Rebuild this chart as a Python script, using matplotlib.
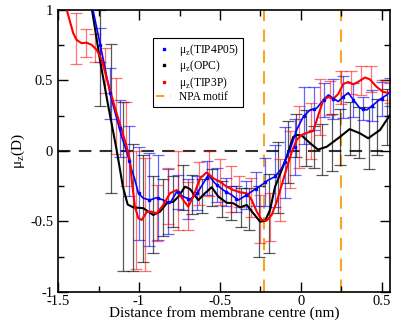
import matplotlib
matplotlib.use("Agg")
import matplotlib.pyplot as plt
from matplotlib.lines import Line2D
from matplotlib.ticker import MultipleLocator, FuncFormatter

plt.rcParams['font.family'] = ['Liberation Serif', 'DejaVu Serif']
plt.rcParams['mathtext.fontset'] = 'custom'
plt.rcParams['mathtext.rm'] = 'Liberation Serif'
plt.rcParams['axes.unicode_minus'] = False

# --- curva suave TIP4P05 (azul) ---
x_tip4p = [-1.284, -1.220, -1.179, -1.138, -1.107, -1.076, -1.045, -1.025, -1.004, -0.973,
           -0.932, -0.891, -0.850, -0.809, -0.767, -0.727, -0.685, -0.644, -0.603, -0.572,
           -0.531, -0.480, -0.428, -0.387, -0.335, -0.284, -0.243, -0.202, -0.160, -0.119,
           -0.068, -0.027, 0.014, 0.056, 0.097, 0.138, 0.169, 0.199, 0.230, 0.261,
           0.292, 0.323, 0.364, 0.406, 0.446, 0.488, 0.529, 0.56]
y_tip4p = [1.0, 0.645, 0.409, 0.232, 0.101, -0.005, -0.135, -0.206, -0.30, -0.335,
           -0.348, -0.331, -0.348, -0.371, -0.289, -0.324, -0.343, -0.305, -0.229, -0.17,
           -0.229, -0.277, -0.312, -0.348, -0.312, -0.272, -0.241, -0.206, -0.182, -0.123,
           0.007, 0.149, 0.243, 0.291, 0.303, 0.362, 0.397, 0.374, 0.35, 0.385,
           0.413, 0.362, 0.303, 0.291, 0.326, 0.367, 0.397, 0.43]

# --- curva suave OPC (negro) ---
x_opc = [-1.290, -1.241, -1.191, -1.138, -1.100, -1.070, -1.035, -0.973, -0.912, -0.870,
         -0.829, -0.788, -0.757, -0.716, -0.685, -0.634, -0.593, -0.551, -0.510, -0.459,
         -0.418, -0.377, -0.335, -0.294, -0.253, -0.222, -0.191, -0.160, -0.119, -0.088,
         -0.048, -0.025, 0.004, 0.056, 0.105, 0.159, 0.241, 0.300, 0.364, 0.415, 0.488, 0.556]
y_opc = [1.0, 0.645, 0.326, 0.007, -0.25, -0.38, -0.40, -0.406, -0.454, -0.43,
         -0.371, -0.36, -0.324, -0.253, -0.27, -0.348, -0.30, -0.257, -0.324, -0.367,
         -0.371, -0.40, -0.383, -0.442, -0.501, -0.496, -0.418, -0.253, -0.135, -0.04,
         0.10, 0.113, 0.11, 0.055, 0.01, 0.03, 0.10, 0.155, 0.125, 0.09, 0.149, 0.267]

# --- curva suave TIP3P (rojo) ---
x_tip3p = [-1.446, -1.426, -1.406, -1.385, -1.354, -1.323, -1.292, -1.261, -1.230, -1.21,
           -1.179, -1.148, -1.107, -1.076, -1.056, -1.045, -1.025, -1.004, -0.983, -0.952,
           -0.922, -0.891, -0.850, -0.809, -0.767, -0.727, -0.696, -0.665, -0.623, -0.582,
           -0.541, -0.5, -0.459, -0.418, -0.377, -0.335, -0.304, -0.273, -0.243, -0.212,
           -0.181, -0.150, -0.119, -0.088, -0.057, -0.027, 0.004, 0.035, 0.076, 0.107,
           0.138, 0.169, 0.199, 0.230, 0.261, 0.292, 0.323, 0.354, 0.395, 0.426,
           0.467, 0.508, 0.556]
y_tip3p = [1.0, 0.917, 0.835, 0.787, 0.764, 0.768, 0.752, 0.716, 0.645, 0.56,
           0.433, 0.305, 0.149, 0.03, -0.064, -0.206, -0.395, -0.477, -0.489, -0.433,
           -0.43, -0.442, -0.383, -0.30, -0.277, -0.348, -0.395, -0.324, -0.194, -0.152,
           -0.194, -0.218, -0.253, -0.277, -0.293, -0.30, -0.348, -0.43, -0.489, -0.494,
           -0.454, -0.36, -0.241, -0.12, -0.007, 0.078, 0.113, 0.128, 0.142, 0.255,
           0.362, 0.383, 0.369, 0.404, 0.475, 0.489, 0.472, 0.491, 0.521, 0.507,
           0.454, 0.418, 0.409]

# --- barras de error (puntos de datos) ---
xb_tip4p = [-1.24, -1.18, -1.12, -1.06, -1.00, -0.94, -0.88, -0.82, -0.76, -0.70,
            -0.64, -0.58, -0.52, -0.46, -0.40, -0.34, -0.28, -0.22, -0.16, -0.10,
            -0.04, 0.02, 0.08, 0.14, 0.20, 0.26, 0.32, 0.38, 0.44, 0.50, 0.55]
yb_tip4p = [0.75, 0.41, 0.16, -0.07, -0.30, -0.345, -0.33, -0.36, -0.29, -0.34,
            -0.30, -0.19, -0.24, -0.29, -0.34, -0.31, -0.27, -0.22, -0.18, -0.08,
            0.03, 0.25, 0.30, 0.36, 0.37, 0.385, 0.36, 0.30, 0.32, 0.37, 0.42]
eb_tip4p = [0.12, 0.18, 0.20, 0.25, 0.33, 0.33, 0.30, 0.23, 0.12, 0.14,
            0.12, 0.12, 0.12, 0.10, 0.09, 0.10, 0.12, 0.17, 0.22, 0.25,
            0.20, 0.20, 0.15, 0.12, 0.14, 0.15, 0.12, 0.08, 0.11, 0.12, 0.10]

xb_opc = [-1.24, -1.17, -1.10, -1.035, -0.973, -0.912, -0.85, -0.79, -0.73, -0.67,
          -0.61, -0.55, -0.49, -0.43, -0.37, -0.32, -0.26, -0.20, -0.14, -0.08,
          -0.03, 0.03, 0.08, 0.13, 0.19, 0.24, 0.30, 0.36, 0.42, 0.47, 0.53]
yb_opc = [0.66, 0.23, -0.25, -0.40, -0.41, -0.45, -0.40, -0.36, -0.26, -0.31,
          -0.32, -0.26, -0.34, -0.37, -0.40, -0.41, -0.50, -0.44, -0.19, -0.01,
          0.11, 0.09, 0.03, 0.01, 0.06, 0.10, 0.16, 0.13, 0.09, 0.17, 0.24]
eb_opc = [0.34, 0.53, 0.60, 0.45, 0.38, 0.27, 0.20, 0.18, 0.16, 0.14,
          0.12, 0.13, 0.13, 0.12, 0.14, 0.15, 0.25, 0.28, 0.25, 0.22,
          0.15, 0.20, 0.15, 0.18, 0.20, 0.20, 0.19, 0.18, 0.22, 0.20, 0.20]

xb_tip3p = [-1.39, -1.33, -1.27, -1.21, -1.14, -1.08, -1.02, -0.96, -0.89, -0.82,
            -0.76, -0.70, -0.63, -0.57, -0.50, -0.43, -0.38, -0.31, -0.25, -0.19,
            -0.13, -0.07, -0.01, 0.06, 0.12, 0.18, 0.25, 0.31, 0.37, 0.43, 0.50, 0.55]
yb_tip3p = [0.80, 0.765, 0.73, 0.57, 0.25, 0.05, -0.42, -0.45, -0.44, -0.32,
            -0.28, -0.39, -0.23, -0.16, -0.22, -0.27, -0.29, -0.33, -0.48, -0.47,
            -0.28, -0.06, 0.10, 0.14, 0.31, 0.375, 0.45, 0.485, 0.50, 0.51, 0.43, 0.41]
eb_tip3p = [0.18, 0.10, 0.10, 0.16, 0.27, 0.30, 0.42, 0.40, 0.20, 0.20,
            0.28, 0.17, 0.15, 0.16, 0.16, 0.16, 0.11, 0.14, 0.17, 0.17,
            0.22, 0.20, 0.22, 0.20, 0.20, 0.12, 0.12, 0.08, 0.10, 0.09, 0.07, 0.07]

npa_motif = [-0.23, 0.25]

fig = plt.figure(figsize=(3.93, 3.2), dpi=100)
ax = fig.add_axes([0.1476, 0.0875, 0.845, 0.8815])

# barras de error primero
ax.errorbar(xb_opc, yb_opc, yerr=eb_opc, fmt='none', ecolor='black', alpha=0.65,
            elinewidth=0.9, capsize=4, capthick=0.9, zorder=2)
ax.errorbar(xb_tip4p, yb_tip4p, yerr=eb_tip4p, fmt='none', ecolor='blue', alpha=0.6,
            elinewidth=0.9, capsize=4, capthick=0.9, zorder=2)
ax.errorbar(xb_tip3p, yb_tip3p, yerr=eb_tip3p, fmt='none', ecolor='red', alpha=0.55,
            elinewidth=0.9, capsize=4, capthick=0.9, zorder=2)

# curvas
ax.plot(x_opc, y_opc, color='black', lw=1.5, zorder=3)
ax.plot(x_tip4p, y_tip4p, color='blue', lw=1.2, zorder=4)
ax.plot(x_tip3p, y_tip3p, color='red', lw=1.5, zorder=4)
ax.plot(xb_tip4p, yb_tip4p, 's', color='blue', ms=2, zorder=5)

# lineas de referencia
ax.axhline(0, color='#333333', lw=1.5, dashes=(6, 4), zorder=1)
for xv in npa_motif:
    ax.axvline(xv, color='#f5a623', lw=1.5, dashes=(6, 4), zorder=1)

ax.set_xlim(-1.5, 0.55)
ax.set_ylim(-1, 1)
ax.xaxis.set_major_locator(MultipleLocator(0.5))
ax.xaxis.set_minor_locator(MultipleLocator(0.25))
ax.yaxis.set_major_locator(MultipleLocator(0.5))
ax.yaxis.set_minor_locator(MultipleLocator(0.25))
fmt = FuncFormatter(lambda v, p: f"{v:g}")
ax.xaxis.set_major_formatter(fmt)
ax.yaxis.set_major_formatter(fmt)
ax.tick_params(which='both', direction='in', top=True, right=True, labelsize=10.5)
ax.tick_params(which='major', length=7, width=1)
ax.tick_params(which='minor', length=4, width=1)
ax.tick_params(axis='x', pad=2)
for s in ax.spines.values():
    s.set_linewidth(1.2)

ax.set_xlabel("Distance from membrane centre (nm)", fontsize=11, labelpad=-1)
ax.set_ylabel(r"μ$_\mathrm{z}$(D)", fontsize=11, labelpad=2)

handles = [
    Line2D([], [], ls='none', marker='s', ms=2, color='blue'),
    Line2D([], [], ls='none', marker='s', ms=2, color='black'),
    Line2D([], [], ls='none', marker='s', ms=2, color='red'),
    Line2D([], [], color='#f5a623', lw=1.5, dashes=(4, 3)),
]
labels = [r"μ$_\mathrm{z}$(TIP4P05)", r"μ$_\mathrm{z}$(OPC)", r"μ$_\mathrm{z}$(TIP3P)", "NPA motif"]
leg = ax.legend(handles, labels, loc='upper left', bbox_to_anchor=(0.286, 0.90),
                borderaxespad=0, fontsize=8.3, fancybox=False, framealpha=1,
                edgecolor='black', handlelength=1.3, handletextpad=0.7,
                labelspacing=0.05, borderpad=0.3)
leg.get_frame().set_linewidth(0.8)

fig.savefig("out.png", dpi=100)
